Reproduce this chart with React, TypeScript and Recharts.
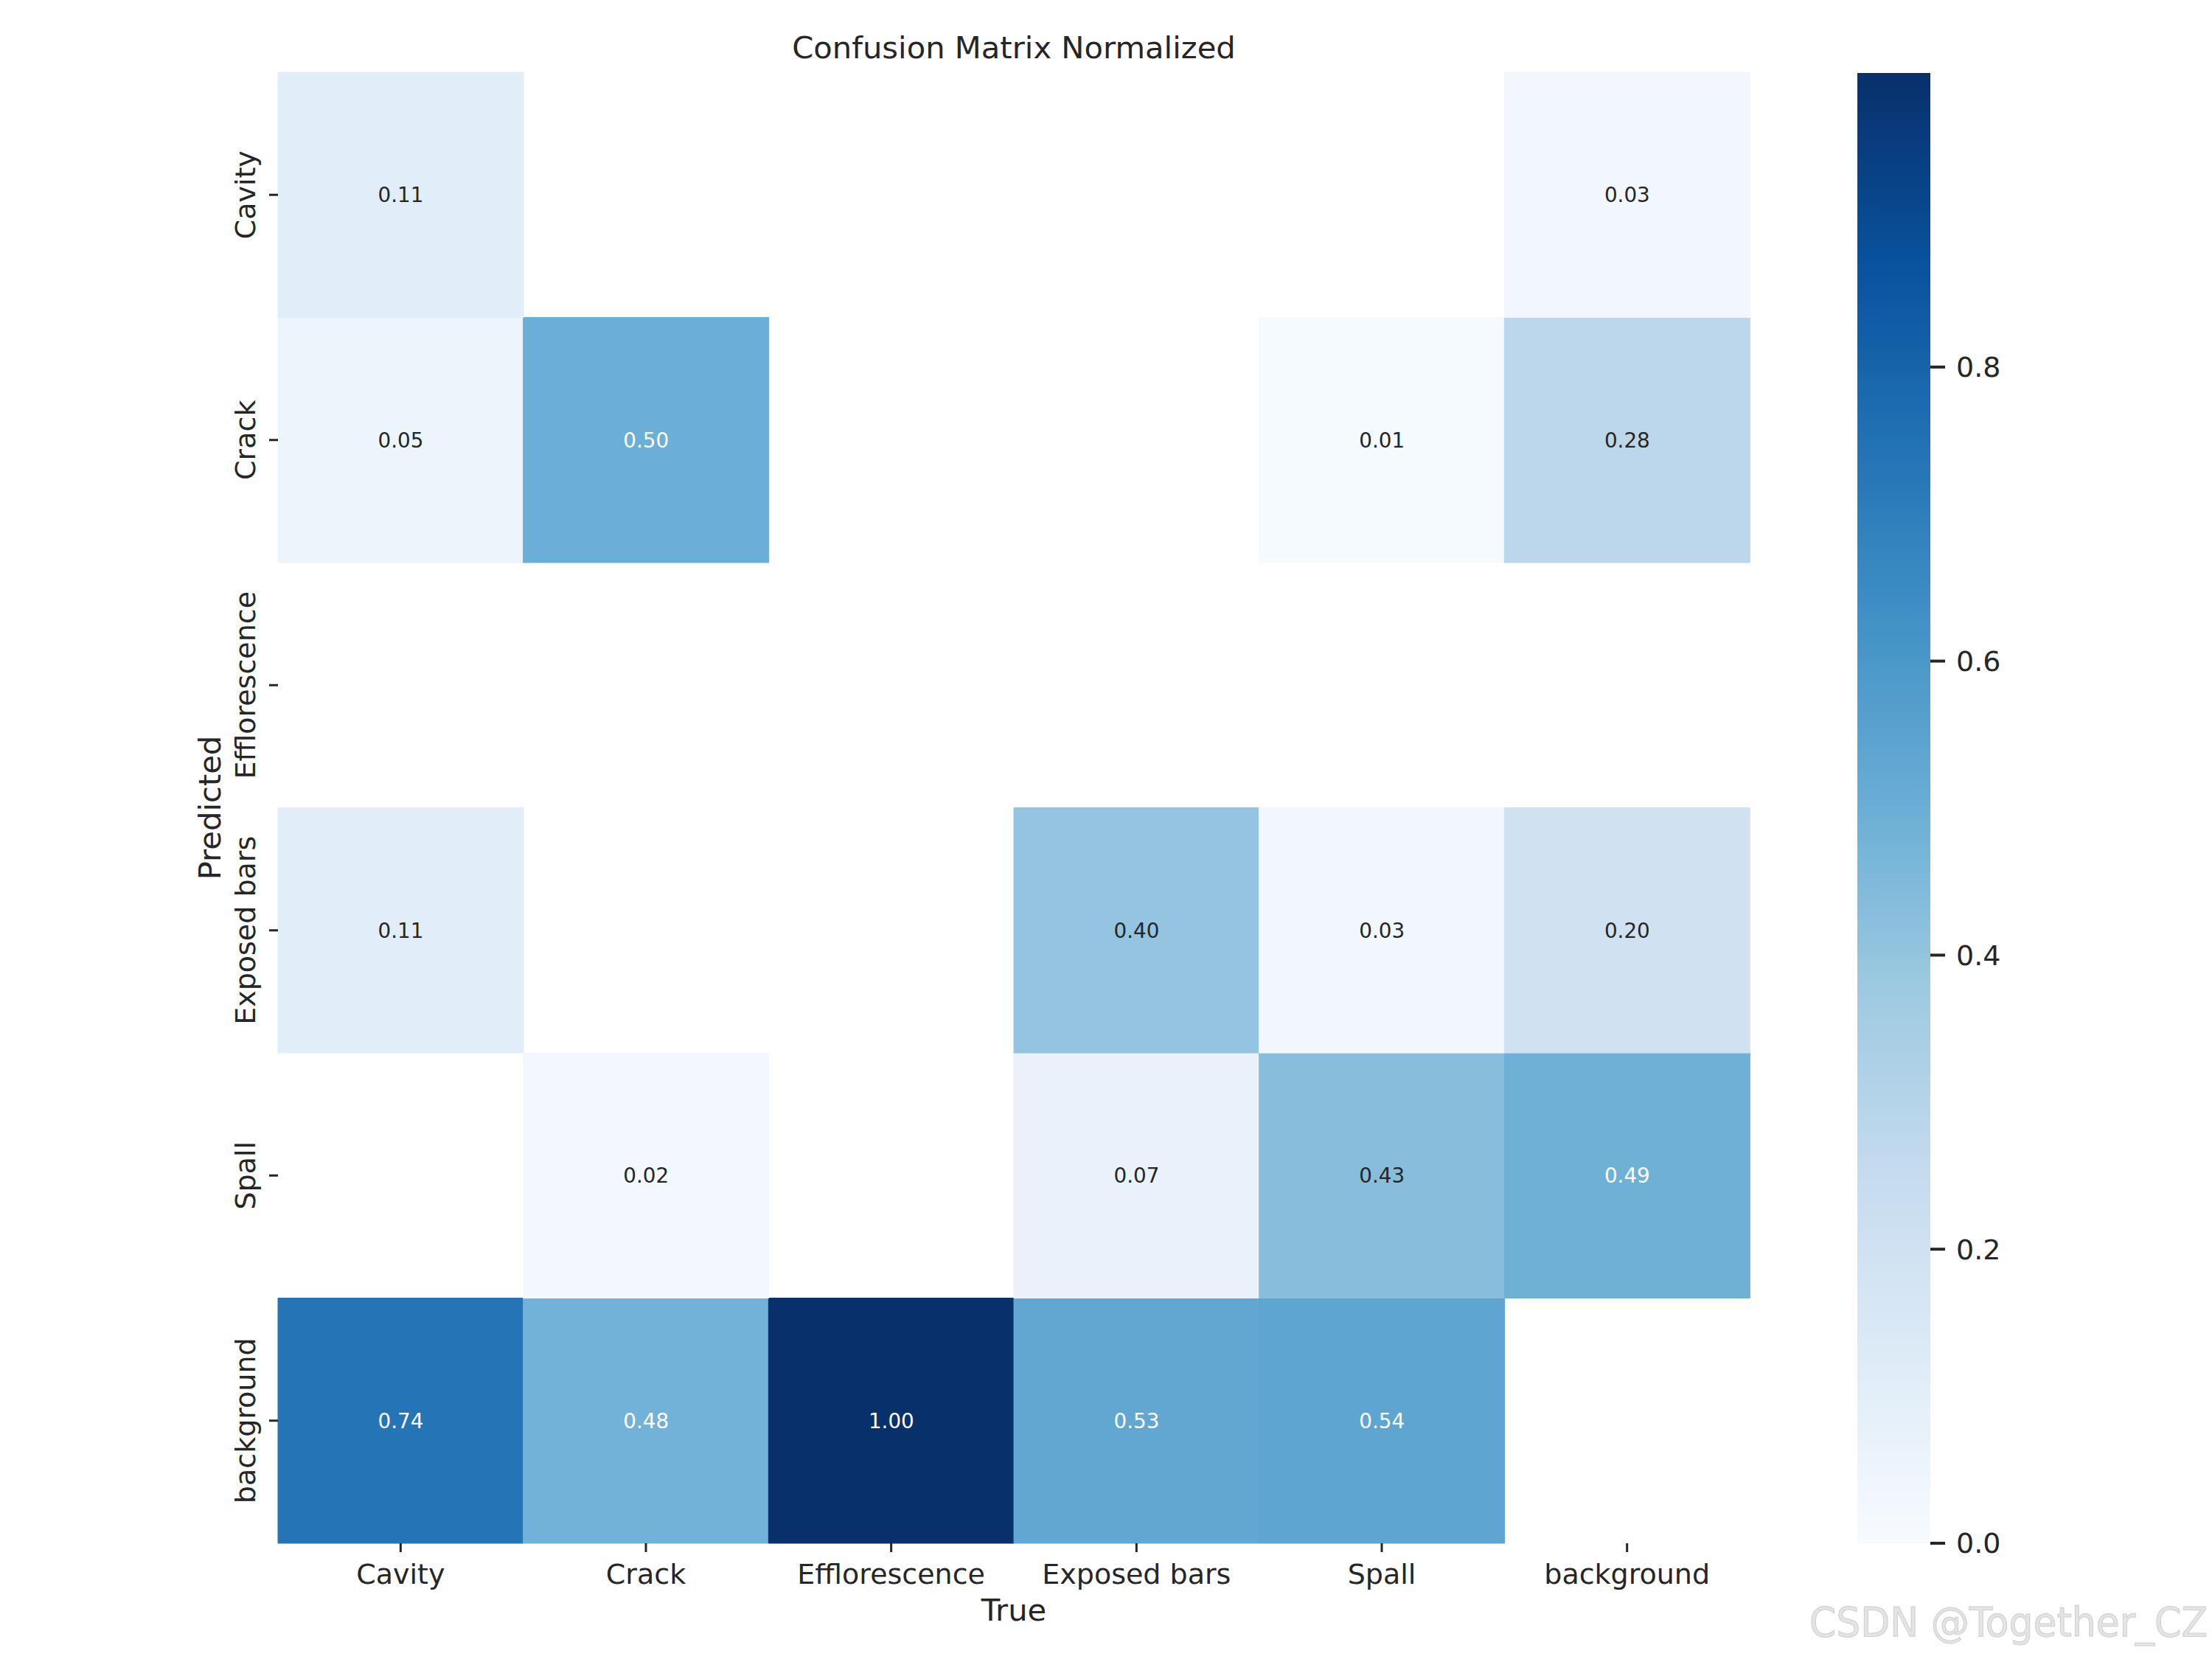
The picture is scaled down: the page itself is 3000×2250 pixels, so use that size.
import { BarChart, Bar, XAxis, YAxis, Cell, LabelList } from "recharts";

const trueLabels = ["Cavity", "Crack", "Efflorescence", "Exposed bars", "Spall", "background"];
const predictedLabels = ["Cavity", "Crack", "Efflorescence", "Exposed bars", "Spall", "background"];

// rows = predicted class, columns = true class (0 = empty cell)
const cavityRow = [0.11, 0, 0, 0, 0, 0.03];
const crackRow = [0.05, 0.5, 0, 0, 0.01, 0.28];
const effloRow = [0, 0, 0, 0, 0, 0];
const exposedRow = [0.11, 0, 0, 0.4, 0.03, 0.2];
const spallRow = [0, 0.02, 0, 0.07, 0.43, 0.49];
const backgroundRow = [0.74, 0.48, 1.0, 0.53, 0.54, 0];

const matrix = [cavityRow, crackRow, effloRow, exposedRow, spallRow, backgroundRow];
const colorbarTicks = [0, 0.2, 0.4, 0.6, 0.8];

const BLUES = ["#f7fbff", "#deebf7", "#c6dbef", "#9ecae1", "#6baed6", "#4292c6", "#2171b5", "#08519c", "#08306b"];
const TEXT = "#262626";
const FONT = "DejaVu Sans, Verdana, sans-serif";

function hexToRgb(h: string) {
  return [parseInt(h.slice(1, 3), 16), parseInt(h.slice(3, 5), 16), parseInt(h.slice(5, 7), 16)];
}

function bluesRgb(v: number) {
  const t = Math.min(1, Math.max(0, v)) * 8;
  const i = Math.min(7, Math.floor(t));
  const f = t - i;
  const a = hexToRgb(BLUES[i]);
  const b = hexToRgb(BLUES[i + 1]);
  return a.map((c, k) => Math.round(c + (b[k] - c) * f));
}

function blues(v: number) {
  const [r, g, b] = bluesRgb(v);
  return `rgb(${r},${g},${b})`;
}

function annotColor(v: number) {
  const lin = bluesRgb(v).map((c) => {
    const s = c / 255;
    return s <= 0.03928 ? s / 12.92 : Math.pow((s + 0.055) / 1.055, 2.4);
  });
  const lum = 0.2126 * lin[0] + 0.7152 * lin[1] + 0.0722 * lin[2];
  return lum < 0.408 ? "#ffffff" : TEXT;
}

// stack order: bottom row first
const stackOrder = [5, 4, 3, 2, 1, 0];

const heatData = trueLabels.map((name) => {
  const row: Record<string, any> = { name };
  predictedLabels.forEach((_, i) => (row[`r${i}`] = 1));
  return row;
});

const colorbarData = [{ name: "cb", v: 1 }];

function XTick(props: any) {
  const { x, y, payload } = props;
  return (
    <text x={x} y={y + 31} textAnchor="middle" fill={TEXT} fontSize={38} fontFamily={FONT}>
      {payload.value}
    </text>
  );
}

function YTick(props: any) {
  const { x, y, payload } = props;
  const label = predictedLabels[5 - Math.floor(payload.value)];
  const bx = x - 7;
  return (
    <text x={bx} y={y} transform={`rotate(-90, ${bx}, ${y})`} textAnchor="middle" fill={TEXT} fontSize={38} fontFamily={FONT}>
      {label}
    </text>
  );
}

function makeAnnot(rowIdx: number) {
  return (props: any) => {
    const { x, y, width, height, index } = props;
    const v = matrix[rowIdx][index];
    if (!v) return null;
    return (
      <text x={x + width / 2} y={y + height / 2 + 10} textAnchor="middle" fill={annotColor(v)} fontSize={27.8} fontFamily={FONT}>
        {v.toFixed(2)}
      </text>
    );
  };
}

export default function App() {
  return (
    <div style={{ position: "absolute", left: 0, top: 0, width: 3000, height: 2250, background: "#fff" }}>
      <div style={{ position: "absolute", left: 0, top: 0 }}>
        <BarChart
          width={2450}
          height={2250}
          data={heatData}
          margin={{ top: 98, right: 77, bottom: 37, left: 257 }}
          barCategoryGap={0}
          barGap={0}
        >
          <XAxis
            dataKey="name"
            type="category"
            height={120}
            axisLine={false}
            tickSize={12}
            tickMargin={12}
            tickLine={{ stroke: TEXT, strokeWidth: 3 }}
            tick={<XTick />}
            interval={0}
            label={{
              content: (p: any) => {
                const vb = p.viewBox;
                return (
                  <text x={vb.x + vb.width / 2} y={vb.y + 105} textAnchor="middle" fill={TEXT} fontSize={41.7} fontFamily={FONT}>
                    True
                  </text>
                );
              },
            }}
          />
          <YAxis
            type="number"
            domain={[0, 6]}
            ticks={[0.5, 1.5, 2.5, 3.5, 4.5, 5.5]}
            width={120}
            axisLine={false}
            tickSize={12}
            tickMargin={12}
            tickLine={{ stroke: TEXT, strokeWidth: 3 }}
            tick={<YTick />}
            interval={0}
            label={{
              content: (p: any) => {
                const vb = p.viewBox;
                const bx = vb.x + 42;
                const cy = vb.y + vb.height / 2;
                return (
                  <text x={bx} y={cy} transform={`rotate(-90, ${bx}, ${cy})`} textAnchor="middle" fill={TEXT} fontSize={41.7} fontFamily={FONT}>
                    Predicted
                  </text>
                );
              },
            }}
          />
          {stackOrder.map((i) => (
            <Bar key={i} dataKey={`r${i}`} stackId="cm" isAnimationActive={false}>
              {trueLabels.map((_, j) => {
                const v = matrix[i][j];
                return v ? (
                  <Cell key={j} fill={blues(v)} stroke={blues(v)} strokeWidth={1} />
                ) : (
                  <Cell key={j} fill="transparent" stroke="none" />
                );
              })}
              <LabelList dataKey={`r${i}`} content={makeAnnot(i)} />
            </Bar>
          ))}
        </BarChart>
      </div>

      <div style={{ position: "absolute", left: 2519, top: 0 }}>
        <BarChart
          width={400}
          height={2250}
          data={colorbarData}
          margin={{ top: 99, right: 181, bottom: 157, left: 0 }}
          barCategoryGap={0}
        >
          <defs>
            <linearGradient id="bluesGrad" x1="0" y1="1" x2="0" y2="0">
              {BLUES.map((c, k) => (
                <stop key={k} offset={k / 8} stopColor={c} />
              ))}
            </linearGradient>
          </defs>
          <XAxis dataKey="name" hide />
          <YAxis
            orientation="right"
            type="number"
            domain={[0, 1]}
            ticks={colorbarTicks}
            width={120}
            axisLine={false}
            tickSize={20}
            tickMargin={15}
            tickLine={{ stroke: TEXT, strokeWidth: 4 }}
            tick={{ fill: TEXT, fontSize: 38, fontFamily: FONT }}
            tickFormatter={(v: number) => v.toFixed(1)}
            interval={0}
          />
          <Bar dataKey="v" fill="url(#bluesGrad)" isAnimationActive={false} />
        </BarChart>
      </div>

      <svg width={3000} height={2250} style={{ position: "absolute", left: 0, top: 0, pointerEvents: "none" }}>
        <text x={1375} y={79} textAnchor="middle" fill={TEXT} fontSize={41.7} fontFamily={FONT}>
          Confusion Matrix Normalized
        </text>
        <text
          x={2994}
          y={2219}
          textAnchor="end"
          fill="#e4e4e4"
          stroke="#cfcfcf"
          strokeWidth={1}
          fontSize={56}
          fontFamily="Liberation Sans Narrow, DejaVu Sans Condensed, sans-serif"
          textLength={540}
          lengthAdjust="spacingAndGlyphs"
        >
          CSDN @Together_CZ
        </text>
      </svg>
    </div>
  );
}
